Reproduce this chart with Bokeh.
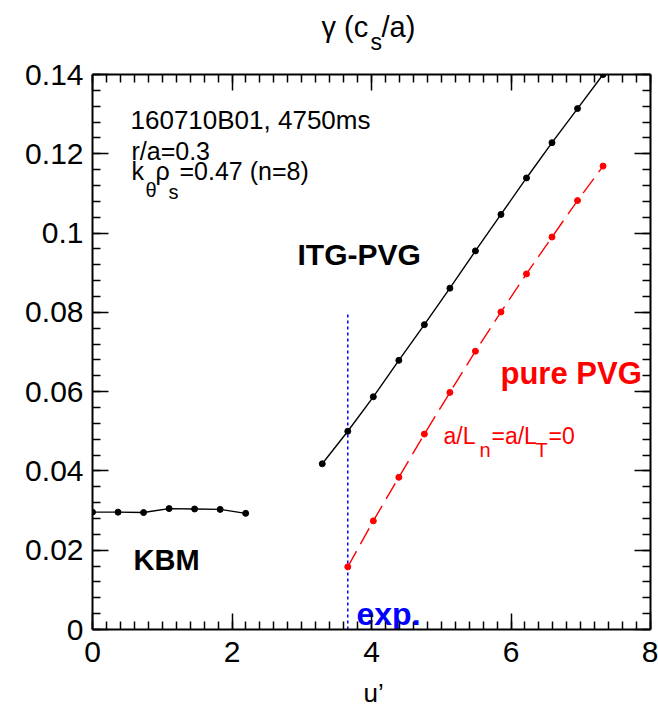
from bokeh.plotting import figure
from bokeh.models import Range1d, FixedTicker, LinearAxis
from bokeh.layouts import column
from bokeh.core.properties import value
from bokeh.embed import file_html
from bokeh.resources import INLINE

# ---------------- data ----------------
du = 0.366  # u' step
kbm_u = [0 * du, 1 * du, 2 * du, 3 * du, 4 * du, 5 * du, 6 * du]
kbm_gamma = [0.0296, 0.0296, 0.0295, 0.0305, 0.0304, 0.0303, 0.0293]

itg_u = [9 * du, 10 * du, 11 * du, 12 * du, 13 * du, 14 * du, 15 * du,
         16 * du, 17 * du, 18 * du, 19 * du, 20 * du]
itg_gamma = [0.0418, 0.0500, 0.0587, 0.0679, 0.0769, 0.0861, 0.0955,
             0.1047, 0.1139, 0.1228, 0.1314, 0.1400]

pvg_u = [10 * du, 11 * du, 12 * du, 13 * du, 14 * du, 15 * du, 16 * du,
         17 * du, 18 * du, 19 * du, 20 * du]
pvg_gamma = [0.0158, 0.0274, 0.0384, 0.0493, 0.0598, 0.0702, 0.0801,
             0.0897, 0.0990, 0.1082, 0.1169]

exp_u = [10 * du, 10 * du]
exp_gamma = [0.0, 0.0800]

x_ticks = [0, 2, 4, 6, 8]
x_tick_labels = ["0", "2", "4", "6", "8"]
y_ticks = [0, 0.02, 0.04, 0.06, 0.08, 0.10, 0.12, 0.14]
y_tick_labels = ["0", "0.02", "0.04", "0.06", "0.08", "0.1", "0.12", "0.14"]
x_minor = [i * 0.2 for i in range(41)]
y_minor = [i * 0.004 for i in range(36)]

# ---------------- layout ----------------
W, H = 658, 707
TOP_H = 55      # strip holding the y-quantity title
BOT_H = 31      # strip holding the x label
L, R, T, B = 92, 650, 74, 629
XMIN, XMAX, YMIN, YMAX = 0, 8, 0, 0.14
FONT = "Liberation Sans"


def shift(size):
    return 0.3 * size


def strip(height, y_top):
    # frames in a column are aligned with the main frame (92..650),
    # so x is in window pixels; y is in window pixels measured from the top
    f = figure(width=W, height=height, output_backend="svg", toolbar_location=None,
               x_range=Range1d(L, R), y_range=Range1d(y_top + height, y_top),
               min_border=0, x_axis_location=None, y_axis_location=None)
    f.xgrid.visible = False
    f.ygrid.visible = False
    f.outline_line_color = None
    return f


def stxt(f, s, px, py, size):
    f.text(x=[px], y=[py - shift(size)], text=[s], text_font=value(FONT),
           text_font_size=value(f"{size}px"), text_color="black",
           text_align="left", text_baseline="alphabetic")


top = strip(TOP_H, 0)
stxt(top, "γ (c", 321, 35, 29)
stxt(top, "s", 370, 48, 23)
stxt(top, "/a)", 381, 35, 29)

bot = strip(BOT_H, H - BOT_H)
stxt(bot, "u’", 363, 700, 26)

MAIN_H = H - TOP_H - BOT_H
p = figure(width=W, height=MAIN_H, output_backend="svg", toolbar_location=None,
           x_range=Range1d(XMIN, XMAX), y_range=Range1d(YMIN, YMAX),
           min_border_left=L, min_border_right=W - R,
           min_border_top=T - TOP_H, min_border_bottom=(H - BOT_H) - B,
           x_axis_location=None, y_axis_location=None)
p.xgrid.visible = False
p.ygrid.visible = False
p.outline_line_color = None


def style_axis(ax, show_labels, standoff):
    ax.axis_line_width = 2
    ax.axis_line_color = "black"
    ax.major_tick_in = 16
    ax.major_tick_out = 0
    ax.minor_tick_in = 8
    ax.minor_tick_out = 0
    ax.major_tick_line_width = 1.5
    ax.minor_tick_line_width = 1.5
    ax.major_tick_line_color = "black"
    ax.minor_tick_line_color = "black"
    ax.major_label_text_font = FONT
    if show_labels:
        ax.major_label_text_color = "black"
        ax.major_label_text_font_size = "30px"
        ax.major_label_standoff = standoff
    else:
        ax.major_label_text_color = None
        ax.major_label_text_font_size = "1px"
        ax.major_label_standoff = 0


xt = FixedTicker(ticks=x_ticks, minor_ticks=x_minor)
yt = FixedTicker(ticks=y_ticks, minor_ticks=y_minor)

xb = LinearAxis(ticker=xt, major_label_overrides=dict(zip(x_ticks, x_tick_labels)))
style_axis(xb, True, 12)
xa = LinearAxis(ticker=xt)
style_axis(xa, False, 0)
yl = LinearAxis(ticker=yt, major_label_overrides=dict(zip(y_ticks, y_tick_labels)))
style_axis(yl, True, 9)
yr = LinearAxis(ticker=yt)
style_axis(yr, False, 0)
p.add_layout(xb, "below")
p.add_layout(xa, "above")
p.add_layout(yl, "left")
p.add_layout(yr, "right")

# ---------------- series ----------------
p.line(exp_u, exp_gamma, line_color="#0000ff", line_width=1.5, line_dash="3 3")

p.line(kbm_u, kbm_gamma, line_color="black", line_width=1.4)
p.scatter(kbm_u, kbm_gamma, size=6, color="black")

p.line(itg_u, itg_gamma, line_color="black", line_width=1.4)
p.scatter(itg_u, itg_gamma, size=6, color="black")

p.line(pvg_u, pvg_gamma, line_color="#ff0000", line_width=1.4, line_dash="18 8")
p.scatter(pvg_u, pvg_gamma, size=6, color="#ff0000")


# ---------------- text (pixel anchors converted to data) ----------------
def dx(px):
    return XMIN + (px - L) / (R - L) * (XMAX - XMIN)


def dy(py):
    return YMIN + (B - py) / (B - T) * (YMAX - YMIN)


def txt(s, px, py, size, color="black", style="normal"):
    p.text(x=[dx(px)], y=[dy(py - shift(size))], text=[s], text_font=value(FONT),
           text_font_size=value(f"{size}px"), text_color=color,
           text_font_style=style, text_align="left", text_baseline="alphabetic")


# info block
txt("160710B01, 4750ms", 130, 127, 26)
txt("r/a=0.3", 131, 158, 25)
txt("k", 131, 178, 25)
txt("θ", 145, 195, 20)
txt("ρ", 155, 178, 25)
txt("s", 168, 197, 20)
txt("=0.47 (n=8)", 179, 178, 25)

txt("ITG-PVG", 297, 263, 30, style="bold")
txt("KBM", 133, 568, 29, style="bold")
txt("pure PVG", 500, 382, 31, color="#ff0000", style="bold")

txt("a/L", 443, 442, 23, color="#ff0000")
txt("n", 479, 455, 20, color="#ff0000")
txt("=a/L", 491, 442, 23, color="#ff0000")
txt("T", 535, 455, 20, color="#ff0000")
txt("=0", 548, 442, 23, color="#ff0000")

txt("exp.", 356, 623, 32, color="#0000ff", style="bold")

layout = column(top, p, bot, spacing=0)
open("out.html", "w").write(file_html(layout, INLINE))
